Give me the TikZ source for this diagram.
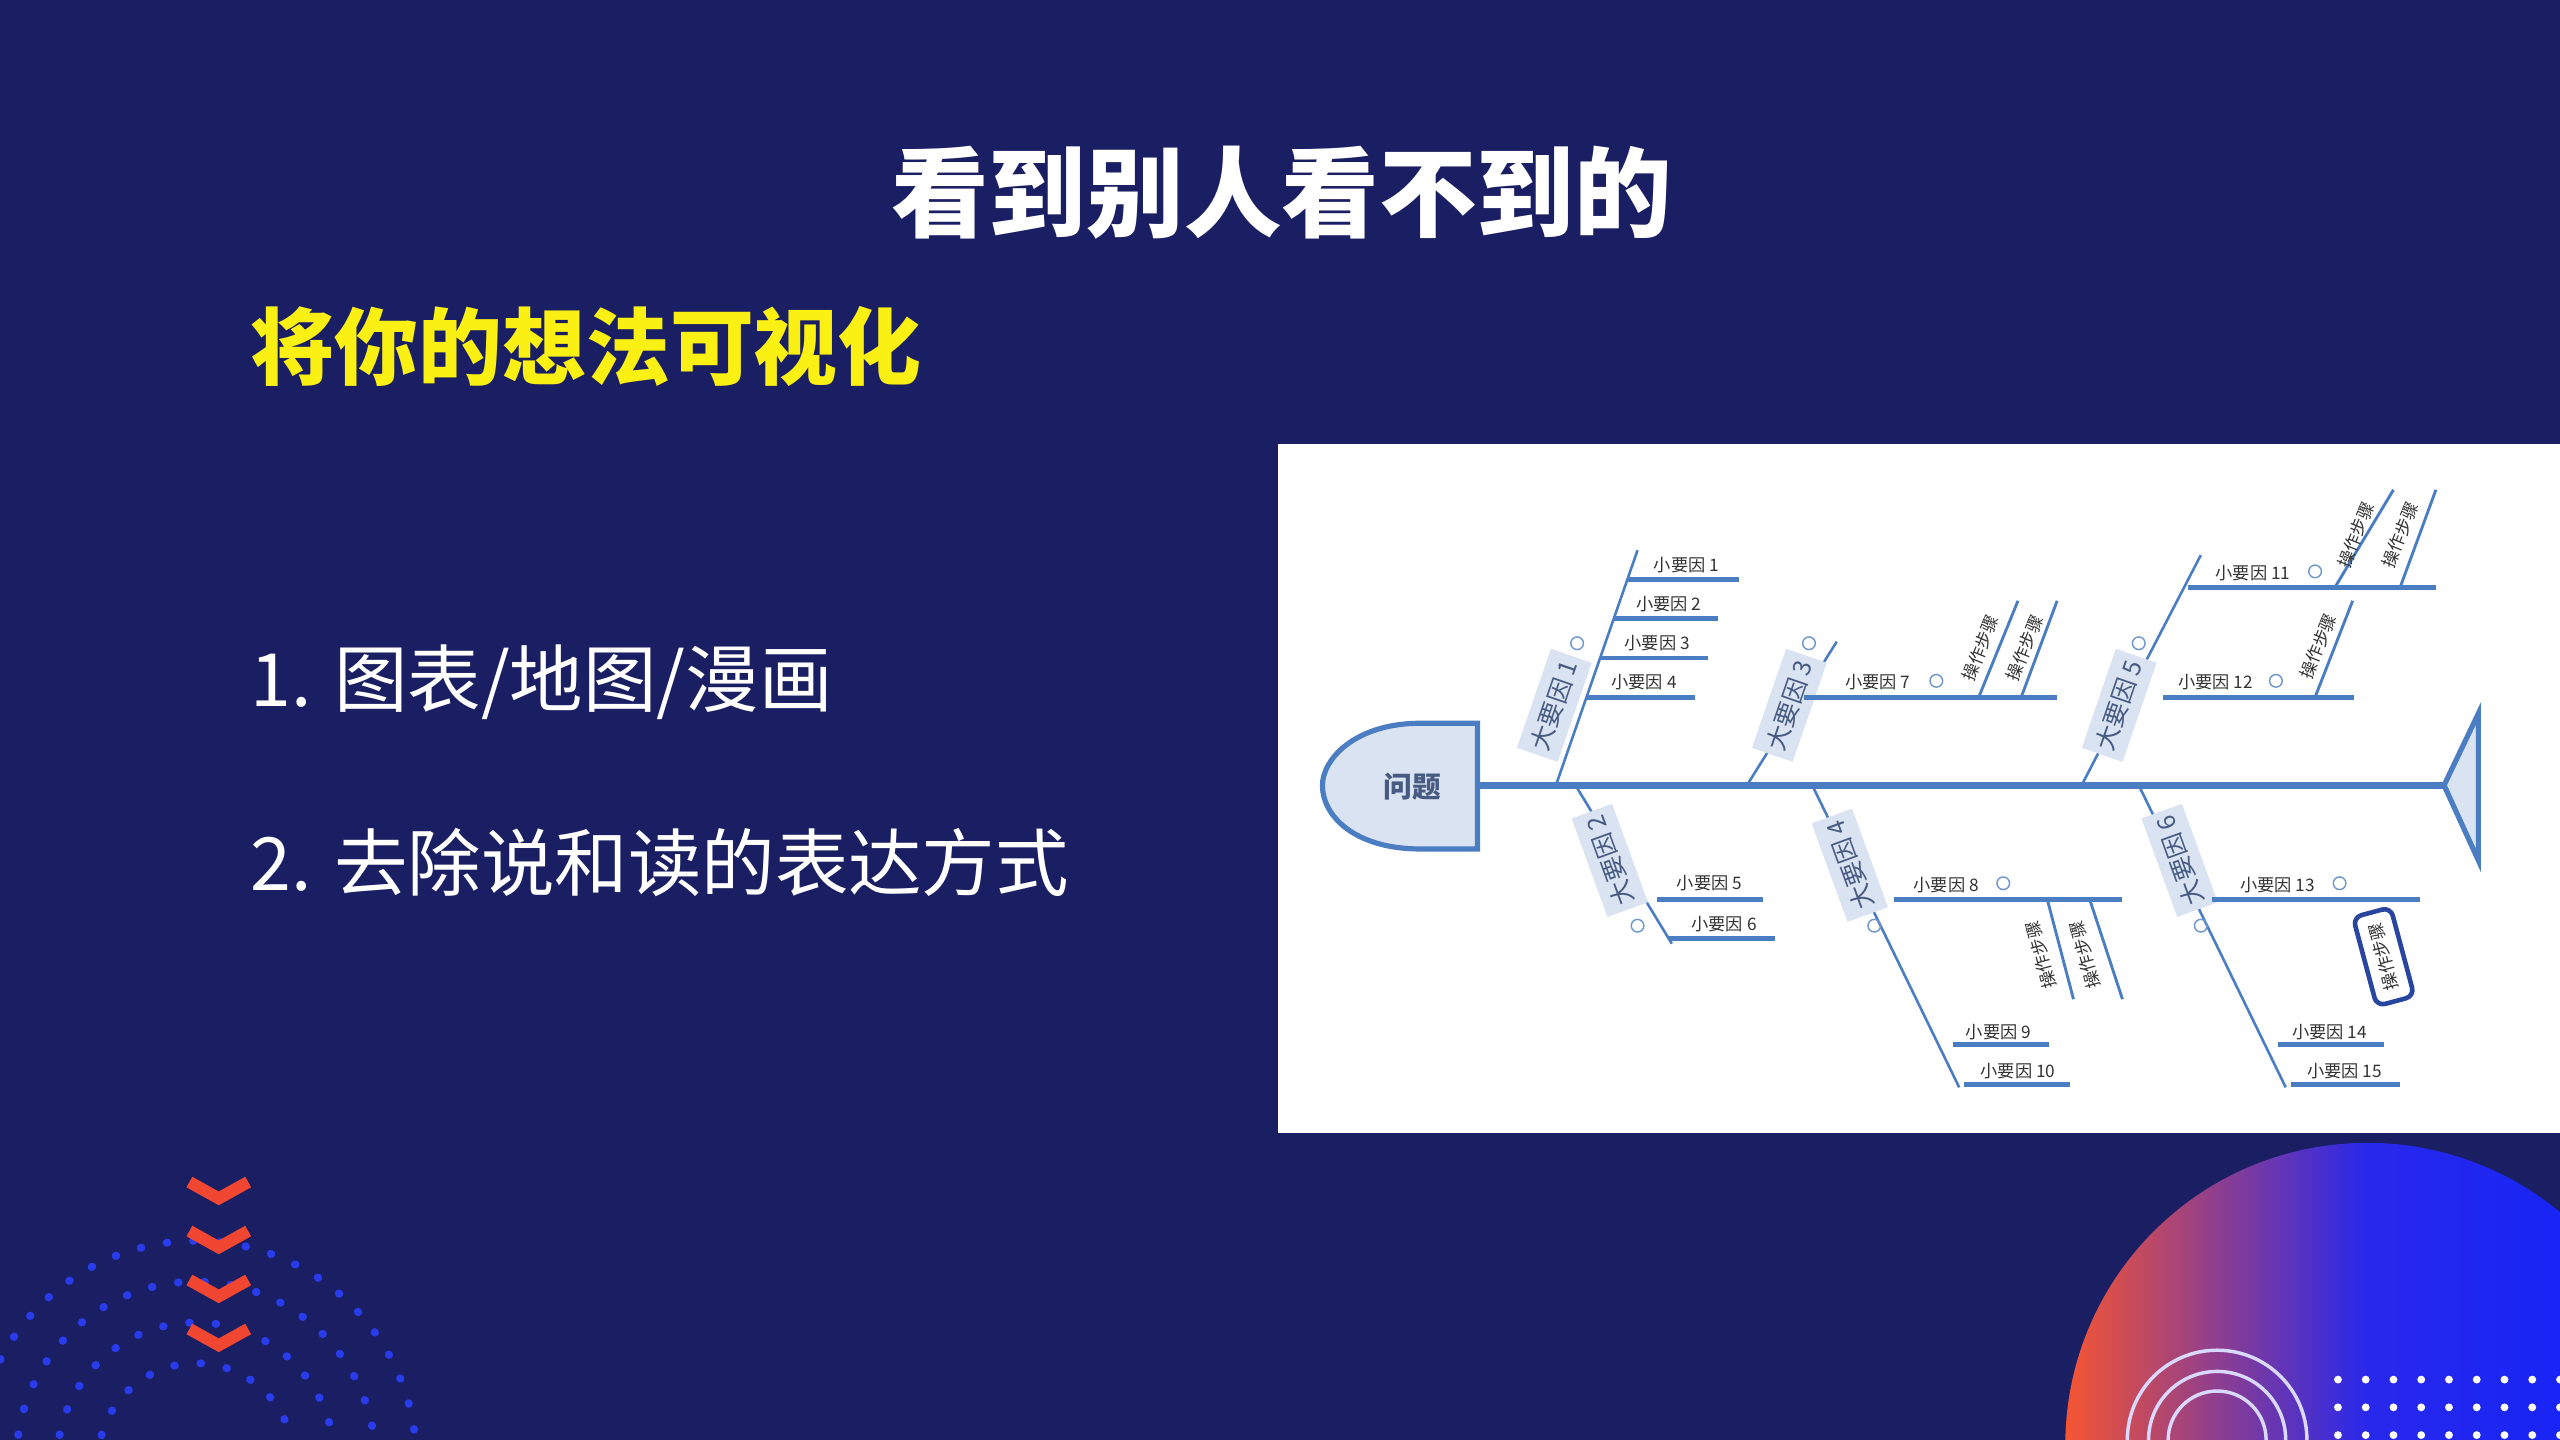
\documentclass[tikz,border=0pt]{standalone}
\usepackage{fontspec}
\setmainfont{Noto Sans CJK SC}
\usetikzlibrary{shadings}
\definecolor{bg}{RGB}{26,30,98}
\definecolor{ln}{RGB}{75,125,195}
\definecolor{boxc}{RGB}{218,227,241}
\definecolor{ttl}{RGB}{70,90,130}
\definecolor{yel}{RGB}{250,240,20}
\definecolor{dotb}{RGB}{40,60,235}
\definecolor{chev}{RGB}{240,70,50}
\definecolor{opb}{RGB}{40,70,160}
\definecolor{blobr}{RGB}{245,85,50}
\definecolor{blobb}{RGB}{15,35,250}
\definecolor{blobm}{RGB}{40,40,235}
\tikzset{
 bone/.style={ln,line width=0.45pt},
 sub/.style={ln,line width=0.85pt},
 thin/.style={ln,line width=0.5pt},
 small/.style={font=\fontsize{3}{3.5}\selectfont,text=black!80,inner sep=0},
 big/.style={font=\fontsize{4.3}{5}\selectfont,text=ttl,fill=boxc,inner sep=1pt,minimum width=18pt,minimum height=7.5pt},
 minus/.style={circle,draw=ln!80,line width=0.25pt,inner sep=0,minimum size=2.2pt},
}
\begin{document}
\begin{tikzpicture}[x=0.01cm,y=-0.01cm]
\fill[bg] (0,0) rectangle (1568,882);
\useasboundingbox (0,0) rectangle (1568,882);
% titles
\node[text=white,font=\fontsize{17}{20}\selectfont\bfseries] (t1) at (785,118) {看到别人看不到的};
\node[text=yel,font=\fontsize{14.6}{18}\selectfont\bfseries,anchor=west,inner sep=0] (t2) at (153,212) {将你的想法可视化};
\node[text=white,font=\fontsize{12.8}{16}\selectfont,anchor=west,inner sep=0] (l1) at (153,418) {1. 图表/地图/漫画};
\node[text=white,font=\fontsize{12.8}{16}\selectfont,anchor=west,inner sep=0] (l2) at (153,528) {2. 去除说和读的表达方式};
% decorations bottom-left
\foreach \r in {60,85,110,135}{\draw[dotb,line width=1.4pt,dash pattern=on 0.1pt off 4.5pt,line cap=round] (120,895) ++(180:\r) arc[start angle=180,end angle=360,radius=\r];}
\foreach \yy in {730,760,790,820}{\draw[chev,line width=2.1pt] (116,\yy-6) -- (134,\yy+4) -- (152,\yy-6);}
% bottom-right blob
\begin{scope}
\clip (1200,695) rectangle (1568,882);
\shade[left color=blobr,right color=blobb,middle color=blobm] (1450,885) circle[radius=185];
\foreach \r in {30,42,55}{\draw[white!85!blue,line width=0.6pt] (1358,882) ++(180:\r) arc[start angle=180,end angle=360,radius=\r];}
\foreach \xx in {1432,1449,...,1568}{\foreach \yy in {845,862,879}{\fill[white] (\xx,\yy) circle[radius=2.4];}}
\end{scope}
% white panel
\fill[white] (783,272) rectangle (1568,694);
% spine and head/tail
\draw[ln,line width=1.2pt] (905,481) -- (1497,481);
\draw[ln,line width=0.9pt,fill=boxc] (905,443) -- (870,443) .. controls (830,443) and (810,465) .. (810,481) .. controls (810,500) and (830,520) .. (870,520) -- (905,520) -- cycle;
\node[font=\fontsize{5}{6}\selectfont\bfseries,text=ttl] (head) at (865,482) {问题};
\draw[ln,line width=0.9pt,fill=boxc] (1497,481) -- (1518,437) -- (1518,527) -- cycle;
% bone 1
\coordinate (b1a) at (953,481); \coordinate (b1b) at (1003,337);
\draw[bone] (b1a) -- (b1b);
\node[big,rotate=71] (B1) at (952,432) {大要因 1};
\node[minus] (m1) at (966,394) {};
\foreach \yy/\xa/\xb/\t in {355/997/1065/1,379/988/1052/2,403/980/1046/3,427/972/1038/4}{
 \draw[sub] (\xa,\yy) -- (\xb,\yy);
 \node[small] at ({(\xa+\xb)/2+2},\yy-9) {小要因 \t};}
% bone 3
\draw[bone] (1070,481) -- (1125,393);
\node[big,rotate=71] (B3) at (1096,432) {大要因 3};
\node[minus] (m3) at (1108,394) {};
\draw[sub] (1105,427) -- (1260,427);
\node[small] (s7) at (1150,418) {小要因 7};
\node[minus] at (1186,417) {};
\draw[thin] (1212,427) -- (1236,368); \node[small,rotate=68] at (1213,397) {操作步骤};
\draw[thin] (1238,427) -- (1260,368); \node[small,rotate=68] at (1240,397) {操作步骤};
% bone 5
\draw[bone] (1275,481) -- (1348,340);
\node[big,rotate=71] (B5) at (1298,432) {大要因 5};
\node[minus] (m5) at (1310,394) {};
\draw[sub] (1340,360) -- (1492,360);
\node[small] (s11) at (1380,351) {小要因 11};
\node[minus] at (1418,350) {};
\draw[thin] (1430,360) -- (1466,300); \node[small,rotate=68] at (1443,328) {操作步骤};
\draw[thin] (1470,360) -- (1492,300); \node[small,rotate=68] at (1470,328) {操作步骤};
\draw[sub] (1325,427) -- (1442,427);
\node[small] (s12) at (1357,418) {小要因 12};
\node[minus] at (1394,417) {};
\draw[thin] (1418,427) -- (1441,368); \node[small,rotate=68] at (1420,396) {操作步骤};
% bone 2
\draw[bone] (965,481) -- (1024,578);
\node[big,rotate=110] (B2) at (986,527) {大要因 2};
\node[minus] (m2) at (1003,567) {};
\draw[sub] (1015,551) -- (1080,551); \node[small] at (1047,541) {小要因 5};
\draw[sub] (1022,575) -- (1087,575); \node[small] at (1056,566) {小要因 6};
% bone 4
\draw[bone] (1110,481) -- (1200,666);
\node[big,rotate=110] (B4) at (1133,530) {大要因 4};
\node[minus] (m4) at (1148,567) {};
\draw[sub] (1160,551) -- (1300,551); \node[small] at (1192,542) {小要因 8};
\node[minus] at (1227,541) {};
\draw[thin] (1254,551) -- (1270,612); \node[small,rotate=105] at (1250,585) {操作步骤};
\draw[thin] (1280,551) -- (1300,612); \node[small,rotate=105] at (1277,585) {操作步骤};
\draw[sub] (1196,640) -- (1255,640); \node[small] at (1224,632) {小要因 9};
\draw[sub] (1203,664) -- (1268,664); \node[small] at (1236,656) {小要因 10};
% bone 6
\draw[bone] (1310,481) -- (1400,666);
\node[big,rotate=110] (B6) at (1335,527) {大要因 6};
\node[minus] (m6) at (1348,567) {};
\draw[sub] (1355,551) -- (1482,551); \node[small] at (1395,542) {小要因 13};
\node[minus] at (1433,541) {};
\node[small,rotate=105,draw=opb,line width=0.8pt,rounded corners=1.5pt,inner sep=2pt,minimum height=6pt] (op) at (1460,586) {操作步骤};
\draw[sub] (1395,640) -- (1460,640); \node[small] at (1427,632) {小要因 14};
\draw[sub] (1403,664) -- (1470,664); \node[small] at (1436,656) {小要因 15};
\end{tikzpicture}
\end{document}
